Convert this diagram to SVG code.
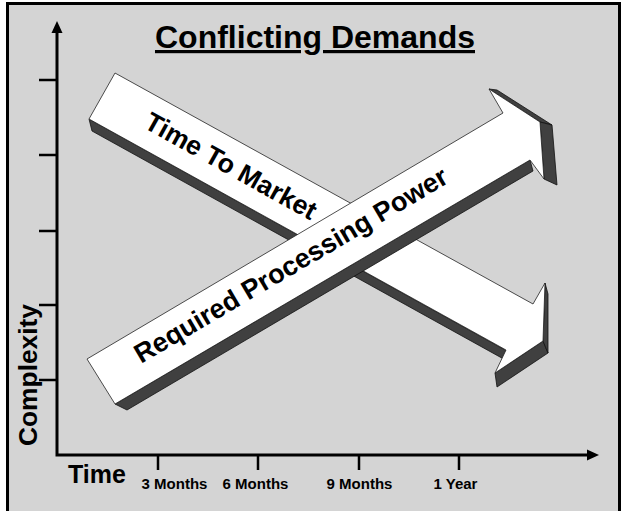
<svg xmlns="http://www.w3.org/2000/svg" width="624" height="511" viewBox="0 0 624 511">
  <style>
    .lbl { font-family: "Liberation Sans", Arial, sans-serif; font-weight: bold; fill: #000; }
    .face { fill: #fff; stroke: #222; stroke-width: 0.8; stroke-linejoin: round; }
    .side { fill: #404040; stroke: #111; stroke-width: 0.8; stroke-linejoin: round; }
    .axis { stroke: #000; stroke-width: 3; fill: none; }
    .tick { stroke: #000; stroke-width: 2.5; fill: none; }
  </style>

  <!-- page and framed panel -->
  <rect width="624" height="511" fill="#fff"/>
  <rect x="7.5" y="3.5" width="612" height="520" fill="#d4d4d4" stroke="#000" stroke-width="3"/>

  <!-- heading -->
  <text class="lbl" x="315" y="48" font-size="32" text-anchor="middle" text-decoration="underline">Conflicting Demands</text>

  <!-- axes, ticks and arrowheads -->
  <g id="axes">
    <path class="axis" d="M57,455 V32 M55.5,455 H588"/>
    <path d="M57,21 L51.5,33 L62.5,33 Z" fill="#000"/>
    <path d="M599,455 L587,449.5 L587,460.5 Z" fill="#000"/>
    <path class="tick" d="M39,80 H57 M39,155 H57 M39,231 H57 M39,305 H57 M39,380 H57"/>
    <path class="tick" d="M158,455 V470 M258,455 V470 M359,455 V470 M459,455 V470"/>
  </g>

  <!-- axis labels -->
  <g id="axis-labels">
    <text class="lbl" x="68" y="483" font-size="25">Time</text>
    <text class="lbl" transform="translate(37,375) rotate(-90)" text-anchor="middle" font-size="26" textLength="142" lengthAdjust="spacingAndGlyphs">Complexity</text>
    <text class="lbl" x="174.5" y="489" font-size="15" text-anchor="middle">3 Months</text>
    <text class="lbl" x="255.5" y="489" font-size="15" text-anchor="middle">6 Months</text>
    <text class="lbl" x="359.5" y="489" font-size="15" text-anchor="middle">9 Months</text>
    <text class="lbl" x="455.5" y="489" font-size="15" text-anchor="middle">1 Year</text>
  </g>

  <!-- falling block arrow -->
  <g id="time-to-market">
    <path class="side" d="M89,119 L507,351 L509,362 L92,131 Z"/>
    <path class="side" d="M495,373 L543,341 L548,353 L497,387 Z"/>
    <path class="side" d="M545,283 L548,294 L548,353 L543,341 Z"/>
    <path class="face" d="M115,73 L533,304 L545,283 L543,341 L495,373 L506,350 L89,119 Z"/>
    <text class="lbl" transform="translate(231,166) rotate(29.1)" text-anchor="middle" y="9" font-size="26.5">Time To Market</text>
  </g>

  <!-- rising block arrow -->
  <g id="required-processing-power">
    <path class="side" d="M115,404 L530,160 L533,171 L127,410 Z"/>
    <path class="side" d="M489,89 L497,90 L552,125 L540,122 Z"/>
    <path class="side" d="M540,122 L552,125 L557,185 L544,179 Z"/>
    <path class="face" d="M87,359 L503,113 L489,89 L540,122 L544,179 L530,160 L115,404 Z"/>
    <text class="lbl" transform="translate(292,267) rotate(-30.5)" text-anchor="middle" y="7" font-size="27">Required Processing Power</text>
  </g>
</svg>
